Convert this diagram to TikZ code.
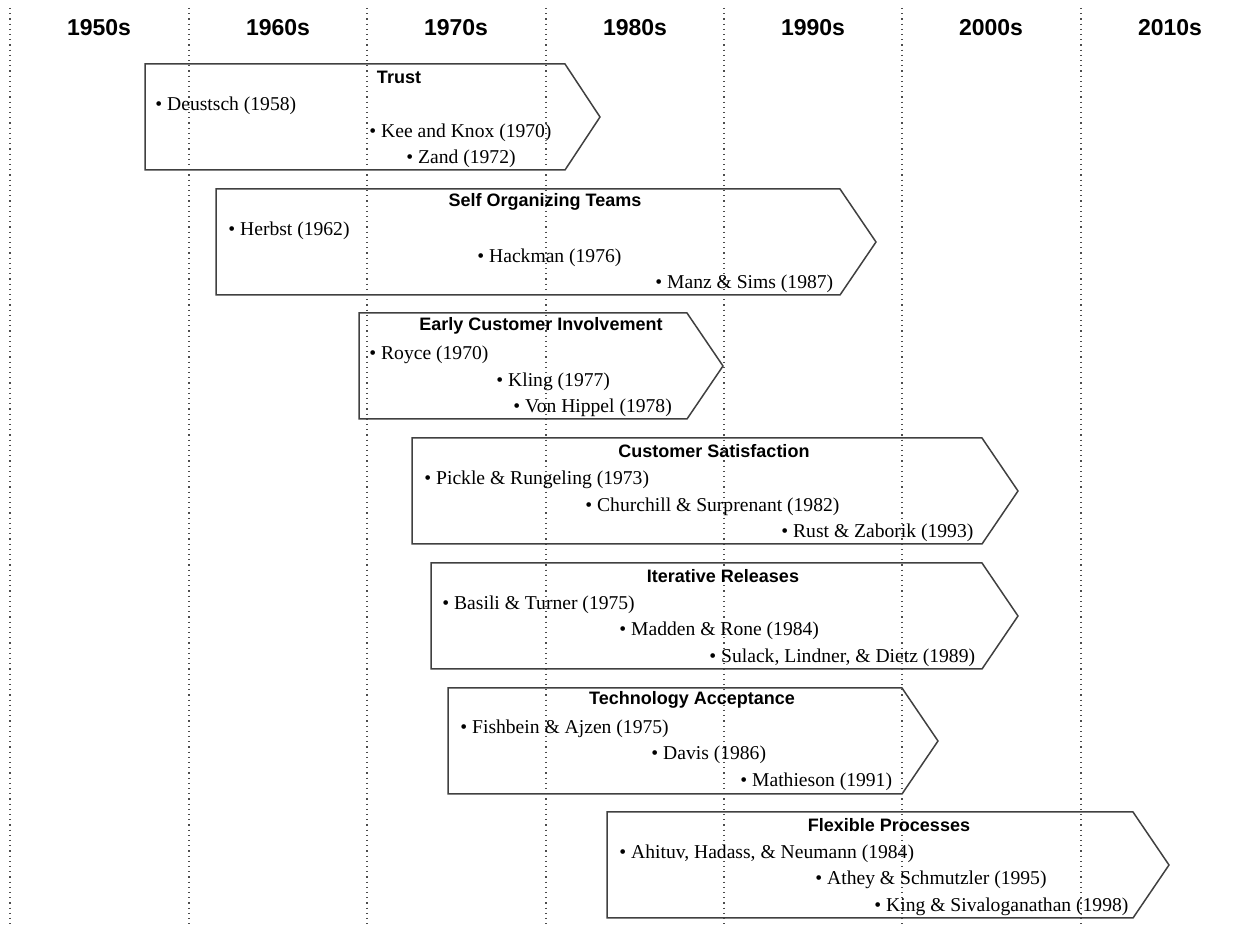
\documentclass[tikz,border=0pt]{standalone}
\usepackage{fontspec}
\setmainfont{Liberation Serif}
\setsansfont{Liberation Sans}

\begin{document}
\begin{tikzpicture}[
    x=0.5pt, y=-0.5pt,
    decade/.style={font=\sffamily\bfseries\fontsize{11.5}{13}\selectfont, inner sep=0pt},
    grid/.style={dotted, black!70, line width=0.6pt},
    phase/.style={draw=black!75, line width=0.75pt, line join=miter},
    ptitle/.style={font=\sffamily\bfseries\fontsize{9}{11}\selectfont, inner sep=0pt},
    cite/.style={anchor=west, inner sep=0pt, yshift=-1pt, font=\fontsize{9.8}{12}\selectfont},
]
\useasboundingbox (0,0) rectangle (1255,930);

% --- decade grid ---
\draw[grid] (10,8)   -- (10,925);
\draw[grid] (189,8)  -- (189,925);
\draw[grid] (367,8)  -- (367,925);
\draw[grid] (546,8)  -- (546,925);
\draw[grid] (724,8)  -- (724,925);
\draw[grid] (902,8)  -- (902,925);
\draw[grid] (1081,8) -- (1081,925);

\node[decade] (d1950) at (99,28)   {1950s};
\node[decade] (d1960) at (278,28)  {1960s};
\node[decade] (d1970) at (456,28)  {1970s};
\node[decade] (d1980) at (635,28)  {1980s};
\node[decade] (d1990) at (813,28)  {1990s};
\node[decade] (d2000) at (991,28)  {2000s};
\node[decade] (d2010) at (1170,28) {2010s};

% --- Trust ---
\draw[phase] (145,64) -- (565,64) -- (600,117) -- (565,170) -- (145,170) -- cycle;
\node[ptitle] (trust) at (399,77) {Trust};
\node[cite] (trust-a) at (155,104) {\textbullet{} Deustsch (1958)};
\node[cite] (trust-b) at (369,131) {\textbullet{} Kee and Knox (1970)};
\node[cite] (trust-c) at (406,157) {\textbullet{} Zand (1972)};

% --- Self Organizing Teams ---
\draw[phase] (216,189) -- (840,189) -- (876,242) -- (840,295) -- (216,295) -- cycle;
\node[ptitle] (sot) at (545,202) {Self Organizing Teams};
\node[cite] (sot-a) at (228,229) {\textbullet{} Herbst (1962)};
\node[cite] (sot-b) at (477,256) {\textbullet{} Hackman (1976)};
\node[cite] (sot-c) at (655,282) {\textbullet{} Manz \& Sims (1987)};

% --- Early Customer Involvement ---
\draw[phase] (359,313) -- (687,313) -- (723,366) -- (687,419) -- (359,419) -- cycle;
\node[ptitle] (eci) at (541,326) {Early Customer Involvement};
\node[cite] (eci-a) at (369,353) {\textbullet{} Royce (1970)};
\node[cite] (eci-b) at (496,380) {\textbullet{} Kling (1977)};
\node[cite] (eci-c) at (513,406) {\textbullet{} Von Hippel (1978)};

% --- Customer Satisfaction ---
\draw[phase] (412,438) -- (982,438) -- (1018,491) -- (982,544) -- (412,544) -- cycle;
\node[ptitle] (cs) at (714,451) {Customer Satisfaction};
\node[cite] (cs-a) at (424,478) {\textbullet{} Pickle \& Rungeling (1973)};
\node[cite] (cs-b) at (585,505) {\textbullet{} Churchill \& Surprenant (1982)};
\node[cite] (cs-c) at (781,531) {\textbullet{} Rust \& Zaborik (1993)};

% --- Iterative Releases ---
\draw[phase] (431,563) -- (982,563) -- (1018,616) -- (982,669) -- (431,669) -- cycle;
\node[ptitle] (ir) at (723,576) {Iterative Releases};
\node[cite] (ir-a) at (442,603) {\textbullet{} Basili \& Turner (1975)};
\node[cite] (ir-b) at (619,629) {\textbullet{} Madden \& Rone (1984)};
\node[cite] (ir-c) at (709,656) {\textbullet{} Sulack, Lindner, \& Dietz (1989)};

% --- Technology Acceptance ---
\draw[phase] (448,688) -- (902,688) -- (938,741) -- (902,794) -- (448,794) -- cycle;
\node[ptitle] (ta) at (692,700) {Technology Acceptance};
\node[cite] (ta-a) at (460,727) {\textbullet{} Fishbein \& Ajzen (1975)};
\node[cite] (ta-b) at (651,753) {\textbullet{} Davis (1986)};
\node[cite] (ta-c) at (740,780) {\textbullet{} Mathieson (1991)};

% --- Flexible Processes ---
\draw[phase] (607,812) -- (1133,812) -- (1169,865) -- (1133,918) -- (607,918) -- cycle;
\node[ptitle] (fp) at (889,825) {Flexible Processes};
\node[cite] (fp-a) at (619,852) {\textbullet{} Ahituv, Hadass, \& Neumann (1984)};
\node[cite] (fp-b) at (815,878) {\textbullet{} Athey \& Schmutzler (1995)};
\node[cite] (fp-c) at (874,905) {\textbullet{} King \& Sivaloganathan (1998)};
\end{tikzpicture}
\end{document}
